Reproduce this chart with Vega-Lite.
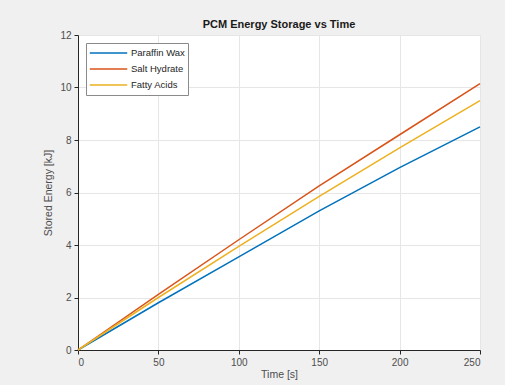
{
  "$schema": "https://vega.github.io/schema/vega-lite/v6.json",
  "autosize": "none",
  "width": 402,
  "height": 315,
  "padding": {"left": 78, "top": 35, "right": 25, "bottom": 35},
  "background": "#f0f0f0",
  "title": {"text": "PCM Energy Storage vs Time", "font": "Liberation Sans", "fontSize": 11, "fontWeight": "bold", "color": "#1a1a1a", "offset": 0},
  "data": {"values": [
    {"t": 0, "E": 0, "s": "Paraffin Wax"},
    {"t": 50, "E": 1.8, "s": "Paraffin Wax"},
    {"t": 100, "E": 3.55, "s": "Paraffin Wax"},
    {"t": 150, "E": 5.3, "s": "Paraffin Wax"},
    {"t": 200, "E": 6.95, "s": "Paraffin Wax"},
    {"t": 250, "E": 8.5, "s": "Paraffin Wax"},
    {"t": 0, "E": 0, "s": "Salt Hydrate"},
    {"t": 50, "E": 2.12, "s": "Salt Hydrate"},
    {"t": 100, "E": 4.2, "s": "Salt Hydrate"},
    {"t": 150, "E": 6.25, "s": "Salt Hydrate"},
    {"t": 200, "E": 8.2, "s": "Salt Hydrate"},
    {"t": 250, "E": 10.15, "s": "Salt Hydrate"},
    {"t": 0, "E": 0, "s": "Fatty Acids"},
    {"t": 50, "E": 2.0, "s": "Fatty Acids"},
    {"t": 100, "E": 3.95, "s": "Fatty Acids"},
    {"t": 150, "E": 5.85, "s": "Fatty Acids"},
    {"t": 200, "E": 7.7, "s": "Fatty Acids"},
    {"t": 250, "E": 9.5, "s": "Fatty Acids"}
  ]},
  "mark": {"type": "line", "strokeWidth": 1.5},
  "encoding": {
    "x": {"field": "t", "type": "quantitative", "title": "Time [s]",
      "scale": {"domain": [0, 250], "nice": false},
      "axis": {"values": [0, 50, 100, 150, 200, 250], "titlePadding": 2}},
    "y": {"field": "E", "type": "quantitative", "title": "Stored Energy [kJ]",
      "scale": {"domain": [0, 12], "nice": false},
      "axis": {"values": [0, 2, 4, 6, 8, 10, 12], "titlePadding": 6}},
    "color": {"field": "s", "type": "nominal", "title": null,
      "scale": {"domain": ["Paraffin Wax", "Salt Hydrate", "Fatty Acids"], "range": ["#0072BD", "#D95319", "#EDB120"]},
      "legend": {"orient": "top-left", "offset": 8, "symbolType": "stroke", "symbolSize": 1400, "symbolStrokeWidth": 1.5,
        "clipHeight": 14, "fillColor": "white", "strokeColor": "#8a8a8a", "padding": 3, "rowPadding": 2, "labelFontSize": 9.5,
        "labelOffset": 3, "labelFont": "Liberation Sans", "labelColor": "#262626", "labelLimit": 200}}
  },
  "config": {
    "view": {"fill": "white", "stroke": null},
    "axis": {"labelFont": "Liberation Sans", "titleFont": "Liberation Sans", "labelFontSize": 10, "titleFontSize": 10.5,
      "titleFontWeight": "normal", "labelColor": "#4d4d4d", "titleColor": "#4d4d4d", "domainColor": "#262626",
      "tickColor": "#262626", "tickSize": 4, "gridColor": "#e6e6e6", "gridOpacity": 1, "labelPadding": 3}
  }
}
